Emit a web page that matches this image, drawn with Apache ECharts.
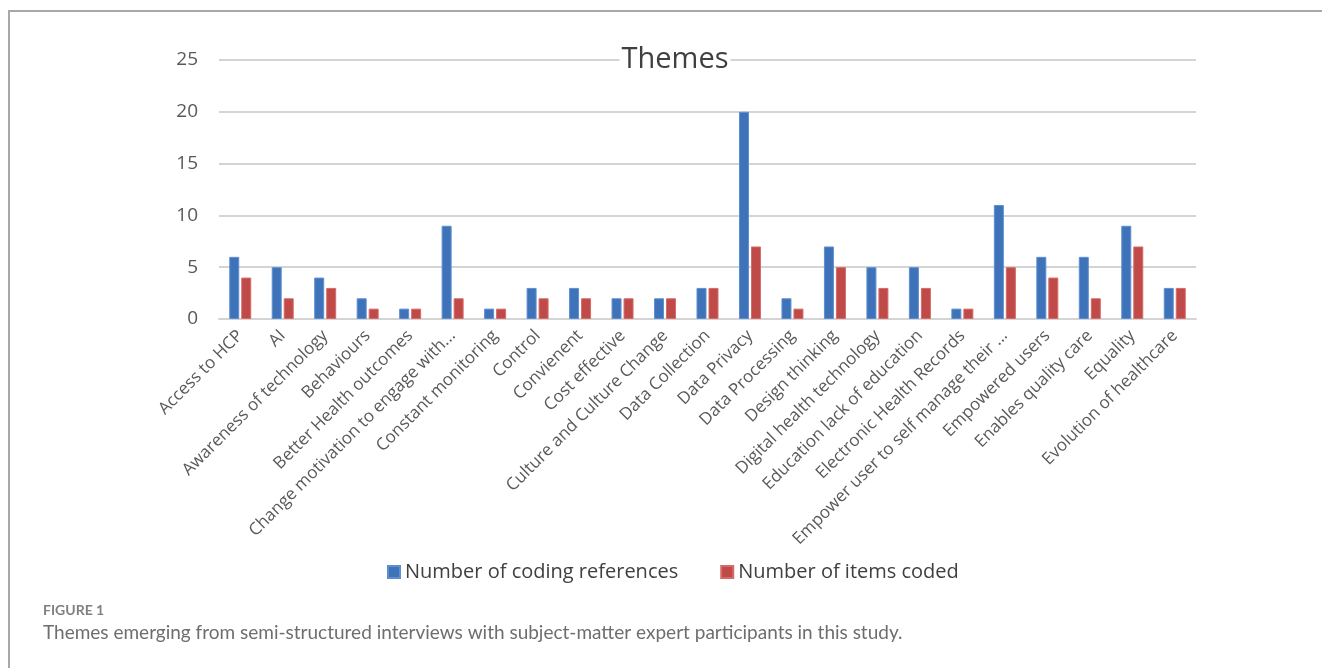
<!DOCTYPE html>
<html>
<head>
<meta charset="utf-8">
<script src="https://cdn.jsdelivr.net/npm/echarts@6/dist/echarts.min.js"></script>
<style>
  html, body { margin: 0; padding: 0; background: #fff; }
  #chart { width: 1322px; height: 668px; }
</style>
</head>
<body>
<div id="chart"></div>
<script>
var themes = [
  'Access to HCP', 'AI', 'Awareness of technology', 'Behaviours',
  'Better Health outcomes', 'Change motivation to engage with...',
  'Constant monitoring', 'Control', 'Convienent', 'Cost effective',
  'Culture and Culture Change', 'Data Collection', 'Data Privacy',
  'Data Processing', 'Design thinking', 'Digital health technology',
  'Education lack of education', 'Electronic Health Records',
  'Empower user to self manage their ...', 'Empowered users',
  'Enables quality care', 'Equality', 'Evolution of healthcare'
];
var codingRefs = [6, 5, 4, 2, 1, 9, 1, 3, 3, 2, 2, 3, 20, 2, 7, 5, 5, 1, 11, 6, 6, 9, 3];
var itemsCoded = [4, 2, 3, 1, 1, 2, 1, 2, 2, 2, 2, 3, 7, 1, 5, 3, 3, 1, 5, 4, 2, 7, 3];
var yTicks = [0, 5, 10, 15, 20, 25];

var chartFont = '"Open Sans", "Noto Sans", sans-serif';

var myChart = echarts.init(document.getElementById('chart'));

myChart.setOption({
    backgroundColor: '#fff',
    animation: false,
    title: [{
        text: 'Themes',
        left: 673,
        top: 45,
        textAlign: 'center',
        backgroundColor: '#fff',
        padding: [0, 2],
        textStyle: { fontFamily: chartFont, fontSize: 29, fontWeight: 'normal', color: '#404040' }
    }, {
        text: 'FIGURE 1',
        left: 43,
        top: 603,
        padding: 0,
        textStyle: { fontFamily: 'Lato, sans-serif', fontSize: 14, fontWeight: 'bold', color: '#808080' }
    }, {
        text: 'Themes emerging from semi-structured interviews with subject-matter expert participants in this study.',
        left: 43,
        top: 623,
        padding: 0,
        textStyle: { fontFamily: 'Lato, sans-serif', fontSize: 19, fontWeight: 'normal', color: '#6e6e6e' }
    }],
    legend: {
        left: 382,
        top: 557,
        itemWidth: 12,
        itemHeight: 12,
        itemGap: 42,
        icon: 'rect',
        textStyle: { fontFamily: chartFont, fontSize: 20, color: '#404040' },
        data: ['Number of coding references', 'Number of items coded']
    },
    grid: { left: 219, right: 126, top: 60, bottom: 349, containLabel: false },
    xAxis: {
        type: 'category',
        data: themes,
        axisLine: { lineStyle: { color: '#d4d4d4', width: 2 } },
        axisTick: { show: false },
        axisLabel: {
            interval: 0,
            rotate: 45,
            margin: 14,
            fontFamily: chartFont,
            fontSize: 17,
            color: '#595959'
        }
    },
    yAxis: {
        type: 'value',
        min: 0,
        max: yTicks[yTicks.length - 1],
        interval: 5,
        axisLine: { show: false },
        axisTick: { show: false },
        splitLine: { lineStyle: { color: '#d4d4d4', width: 2 } },
        axisLabel: { margin: 21, fontFamily: chartFont, fontSize: 19, color: '#595959' }
    },
    series: [{
        name: 'Number of coding references',
        type: 'bar',
        data: codingRefs,
        barWidth: 10,
        barGap: '20%',
        itemStyle: { color: '#3f73b9', borderColor: '#5d8fd0', borderWidth: 1 }
    }, {
        name: 'Number of items coded',
        type: 'bar',
        data: itemsCoded,
        barWidth: 10,
        barGap: '20%',
        itemStyle: { color: '#bf4a48', borderColor: '#d46b68', borderWidth: 1 }
    }],
    graphic: [{
        type: 'line',
        shape: { x1: 8, y1: 11, x2: 1322, y2: 11 },
        style: { stroke: '#a8a8a8', lineWidth: 2 }
    }, {
        type: 'line',
        shape: { x1: 9, y1: 11, x2: 9, y2: 668 },
        style: { stroke: '#a8a8a8', lineWidth: 2 }
    }]
});
</script>
</body>
</html>
